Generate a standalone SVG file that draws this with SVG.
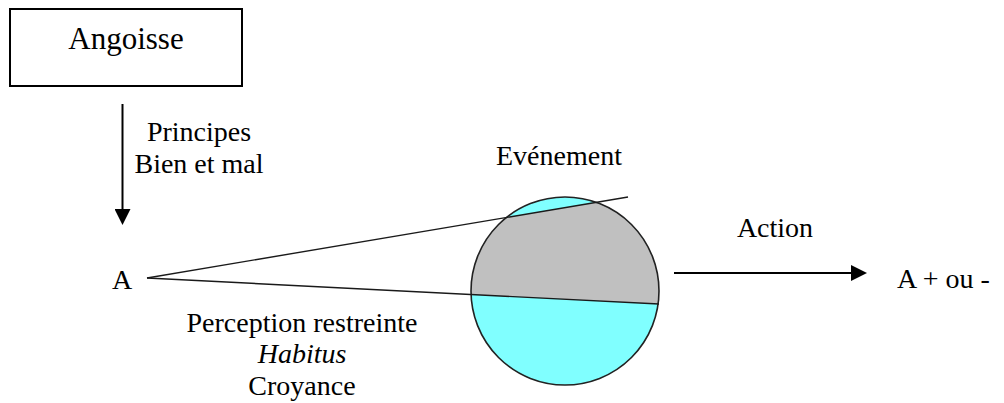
<svg xmlns="http://www.w3.org/2000/svg" width="1004" height="403" viewBox="0 0 1004 403" font-family="'Liberation Serif', 'Times New Roman', 'DejaVu Serif', serif">
<style>
text{font-family:'Liberation Serif','Times New Roman','DejaVu Serif',serif;font-size:28px;fill:#000}
.box{fill:#fff;stroke:#000;stroke-width:2}
.arrow{stroke:#000;stroke-width:2;fill:none}
.ray{stroke:#1a1a1a;stroke-width:1.4;fill:none}
.cyan{fill:#80ffff}
.grey{fill:#c0c0c0}
.outline{fill:none;stroke:#222;stroke-width:1.6}
</style>
<defs>
<marker id="ah" markerUnits="userSpaceOnUse" markerWidth="16" markerHeight="16" refX="0" refY="8" orient="auto">
<path d="M0,0 L16,8 L0,16 z" fill="#000"/>
</marker>
<clipPath id="circ"><circle cx="565" cy="291" r="94"/></clipPath>
</defs>
<rect width="1004" height="403" fill="#fff"/>
<g id="angoisse">
<rect class="box" x="10" y="9" width="232" height="77"/>
<text x="126" y="49" text-anchor="middle" style="font-size:31px">Angoisse</text>
</g>
<g id="evenement">
<circle class="cyan" cx="565" cy="291" r="94"/>
<polygon class="grey" clip-path="url(#circ)" points="147,278 700,185 700,306"/>
<circle class="outline" cx="565" cy="291" r="94"/>
<text x="559" y="165" text-anchor="middle">Evénement</text>
</g>
<g id="a-start">
<text x="112" y="289">A</text>
</g>
<g id="a-end">
<text x="897" y="288">A + ou -</text>
</g>
<g id="connectors">
<line class="arrow" x1="122.5" y1="104" x2="122.5" y2="209" marker-end="url(#ah)"/>
<line class="arrow" x1="674" y1="273" x2="851" y2="273" marker-end="url(#ah)"/>
<line class="ray" x1="147" y1="278" x2="628" y2="197"/>
<line class="ray" x1="147" y1="278" x2="659" y2="304"/>
<text x="199" y="141" text-anchor="middle">Principes</text>
<text x="199" y="173" text-anchor="middle">Bien et mal</text>
<text x="775" y="237" text-anchor="middle">Action</text>
<text x="302" y="332" text-anchor="middle">Perception restreinte</text>
<text x="302" y="363" text-anchor="middle" font-style="italic">Habitus</text>
<text x="302" y="395" text-anchor="middle">Croyance</text>
</g>
</svg>
